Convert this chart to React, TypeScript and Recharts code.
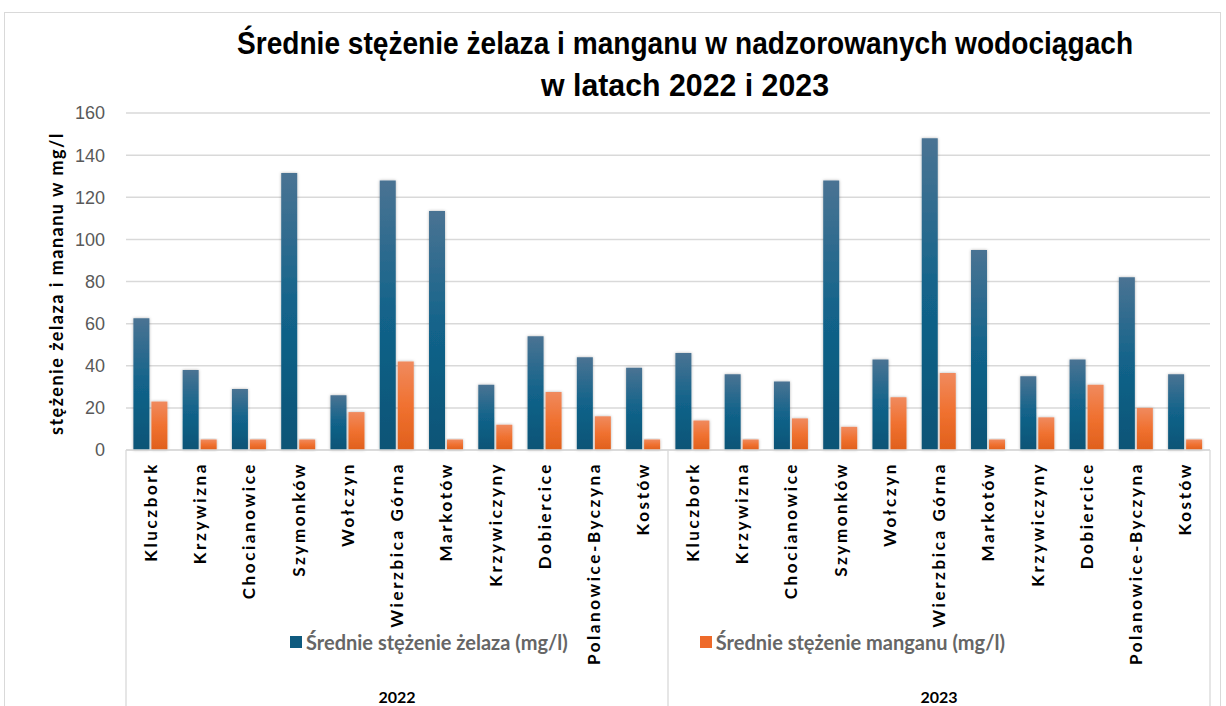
import React from 'react';
import { BarChart, Bar, XAxis, YAxis, CartesianGrid, Legend } from 'recharts';

const towns = ['Kluczbork', 'Krzywizna', 'Chocianowice', 'Szymonków', 'Wołczyn', 'Wierzbica Górna', 'Markotów', 'Krzywiczyny', 'Dobiercice', 'Polanowice-Byczyna', 'Kostów'];
const years = ['2022', '2023'];
const iron2022 = [62.5, 38, 29, 131.5, 26, 128, 113.5, 31, 54, 44, 39];
const mn2022 = [23, 5, 5, 5, 18, 42, 5, 12, 27.5, 16, 5];
const iron2023 = [46, 36, 32.5, 128, 43, 148, 95, 35, 43, 82, 36];
const mn2023 = [14, 5, 15, 11, 25, 36.5, 5, 15.5, 31, 20, 5];
const yTicks = [0, 20, 40, 60, 80, 100, 120, 140, 160];
const seriesKeys = ['iron', 'mn'] as const;
const seriesNames: Record<string, string> = { iron: 'Średnie stężenie żelaza (mg/l)', mn: 'Średnie stężenie manganu (mg/l)' };
const legendColors: Record<string, string> = { iron: '#0f5b7f', mn: '#ee6a2a' };
const titleLines = ['Średnie stężenie żelaza i manganu w nadzorowanych wodociągach', 'w latach 2022 i 2023'];
const yAxisTitle = 'stężenie żelaza i mananu w mg/l';

const ironByYear = [iron2022, iron2023];
const mnByYear = [mn2022, mn2023];
const data = years.flatMap((year, yi) =>
  towns.map((town, ti) => ({
    key: `${year}|${town}`,
    iron: ironByYear[yi][ti],
    mn: mnByYear[yi][ti],
  }))
);

const CategoryTick = (props: any) => {
  const { x, y, payload } = props;
  const [year, town] = String(payload.value).split('|');
  const idx: number = payload.index ?? 0;
  const half: number = payload.offset ?? 24.6;
  const pos = idx % towns.length;
  const ly = y + 12;
  return (
    <g>
      <text
        x={x}
        y={ly}
        transform={`rotate(-90, ${x}, ${ly})`}
        textAnchor="end"
        dy="0.36em"
        fill="#000"
        fontFamily="Lato"
        fontWeight={700}
        fontSize={17}
        letterSpacing={2.6}
      >
        {town}
      </text>
      {pos === 5 && (
        <text x={x} y={y + 253} textAnchor="middle" fill="#000" fontFamily="Lato" fontWeight={700} fontSize={16}>
          {year}
        </text>
      )}
      {pos === 0 && <line x1={x - half} x2={x - half} y1={y} y2={y + 270} stroke="#d9d9d9" strokeWidth={1.3} />}
      {idx === data.length - 1 && <line x1={x + half} x2={x + half} y1={y} y2={y + 270} stroke="#d9d9d9" strokeWidth={1.3} />}
    </g>
  );
};

const renderLegend = () => (
  <div style={{ display: 'flex', paddingLeft: 290, gap: 132, fontFamily: 'Lato', fontWeight: 700, fontSize: 20, color: '#666666' }}>
    {seriesKeys.map((k) => (
      <div key={k} style={{ display: 'flex', alignItems: 'center' }}>
        <span style={{ display: 'inline-block', width: 12, height: 12, background: legendColors[k], marginRight: 4 }} />
        <span>{seriesNames[k]}</span>
      </div>
    ))}
  </div>
);

const YLabel = (props: any) => {
  const vb = props.viewBox || { x: 0, y: 113, width: 126, height: 337 };
  const cx = vb.x + 57;
  const cy = vb.y + vb.height / 2 + 2;
  return (
    <text
      x={cx}
      y={cy}
      transform={`rotate(-90, ${cx}, ${cy})`}
      textAnchor="middle"
      dy="0.36em"
      fill="#000"
      fontFamily="Lato"
      fontWeight={700}
      fontSize={18}
      letterSpacing={1.5}
    >
      {yAxisTitle}
    </text>
  );
};

export default function App() {
  return (
    <div style={{ position: 'absolute', left: 0, top: 0, width: 1226, height: 706, background: '#fff', overflow: 'hidden' }}>
      <div style={{ position: 'absolute', left: 4, top: 12, width: 1217, height: 720, border: '1.5px solid #d9d9d9', boxSizing: 'border-box' }} />
      <svg style={{ position: 'absolute', left: 0, top: 0 }} width={1226} height={112}>
        <g transform="translate(685 54) scale(0.87 1)">
          <text x={0} y={0} textAnchor="middle" textLength={1030} lengthAdjust="spacingAndGlyphs" fontFamily="Liberation Sans" fontWeight={700} fontSize={32} fill="#000">
            {titleLines[0]}
          </text>
        </g>
        <text x={685} y={96} textAnchor="middle" textLength={288} lengthAdjust="spacingAndGlyphs" fontFamily="Liberation Sans" fontWeight={700} fontSize={32} fill="#000">
          {titleLines[1]}
        </text>
      </svg>
      <div style={{ position: 'absolute', left: 0, top: 0 }}>
        <BarChart
          width={1226}
          height={706}
          data={data}
          margin={{ top: 113, right: 16, bottom: 0, left: 0 }}
          barCategoryGap="15%"
          barGap={2}
        >
          <defs>
            <linearGradient id="gIron" x1="0" y1="0" x2="0" y2="1">
              <stop offset="0%" stopColor="#4a7393" />
              <stop offset="50%" stopColor="#12638a" />
              <stop offset="100%" stopColor="#0b5476" />
            </linearGradient>
            <linearGradient id="gMn" x1="0" y1="0" x2="0" y2="1">
              <stop offset="0%" stopColor="#f08a5e" />
              <stop offset="50%" stopColor="#f07130" />
              <stop offset="100%" stopColor="#e0601c" />
            </linearGradient>
            <filter id="shadow" x="-30%" y="-10%" width="160%" height="120%">
              <feDropShadow dx="0" dy="0" stdDeviation="1.5" floodColor="#000" floodOpacity="0.3" />
            </filter>
          </defs>
          <CartesianGrid horizontal vertical={false} stroke="#d9d9d9" strokeWidth={1.5} />
          <XAxis
            dataKey="key"
            interval={0}
            height={256}
            tickLine={false}
            tickSize={0}
            tickMargin={0}
            axisLine={{ stroke: '#d9d9d9', strokeWidth: 1.5 }}
            tick={<CategoryTick />}
          />
          <YAxis
            domain={[0, 160]}
            ticks={yTicks}
            width={126}
            axisLine={false}
            tickLine={false}
            tickSize={0}
            tickMargin={21}
            tick={{ fill: '#595959', fontSize: 18, fontFamily: 'Liberation Sans' }}
            label={<YLabel />}
          />
          <Legend
            verticalAlign="middle"
            align="center"
            layout="horizontal"
            content={renderLegend}
            wrapperStyle={{ position: 'absolute', top: 630, left: 0, width: 1226 }}
          />
          <Bar dataKey="iron" name={seriesNames.iron} fill="url(#gIron)" filter="url(#shadow)" isAnimationActive={false} />
          <Bar dataKey="mn" name={seriesNames.mn} fill="url(#gMn)" filter="url(#shadow)" isAnimationActive={false} />
        </BarChart>
      </div>
    </div>
  );
}
